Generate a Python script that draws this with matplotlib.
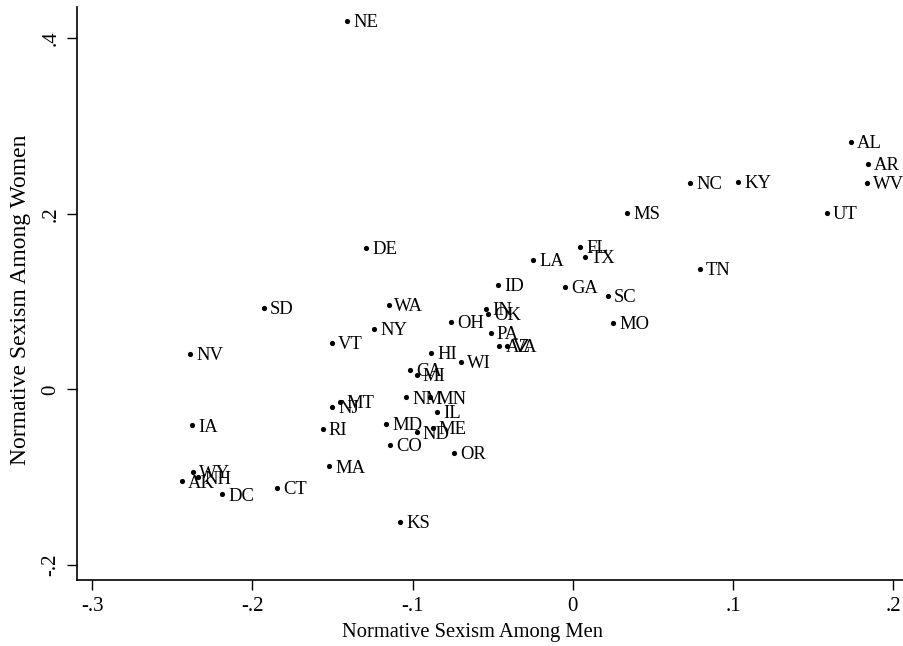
import numpy as np
import matplotlib.pyplot as plt

# --- data ---
states = ["NE", "AL", "AR", "WV", "UT", "KY", "NC", "MS", "TN", "FL",
          "TX", "LA", "GA", "SC", "MO", "ID", "IN", "OK", "OH", "PA",
          "AZ", "VA", "WA", "NY", "VT", "HI", "WI", "CA", "MI", "NM",
          "MN", "MT", "NJ", "IL", "RI", "MD", "ND", "ME", "CO", "OR",
          "MA", "IA", "WY", "NH", "AK", "DC", "CT", "NV", "SD", "DE", "KS"]

men = [-0.1408, 0.1736, 0.1842, 0.1836, 0.1586, 0.1031, 0.0732, 0.0339, 0.0794, 0.0047,
       0.0077, -0.0246, -0.0048, 0.0220, 0.0253, -0.0464, -0.0541, -0.0528, -0.0757, -0.0513,
       -0.0458, -0.0412, -0.1150, -0.1240, -0.1503, -0.0882, -0.0699, -0.1015, -0.0973, -0.1038,
       -0.0890, -0.1452, -0.1500, -0.0847, -0.1560, -0.1165, -0.0973, -0.0873, -0.1140, -0.0740,
       -0.1520, -0.2377, -0.2367, -0.2336, -0.2441, -0.2188, -0.1847, -0.2387, -0.1926, -0.1289, -0.1077]

women = [0.4196, 0.2818, 0.2568, 0.2351, 0.2010, 0.2363, 0.2351, 0.2010, 0.1372, 0.1625,
         0.1512, 0.1474, 0.1164, 0.1065, 0.0754, 0.1190, 0.0913, 0.0856, 0.0763, 0.0640,
         0.0499, 0.0495, 0.0962, 0.0685, 0.0526, 0.0419, 0.0317, 0.0219, 0.0165, -0.0093,
         -0.0093, -0.0142, -0.0196, -0.0253, -0.0450, -0.0393, -0.0492, -0.0442, -0.0632, -0.0727,
         -0.0879, -0.0412, -0.0943, -0.1004, -0.1050, -0.1198, -0.1121, 0.0404, 0.0928, 0.1611, -0.1509]

xticks = [-0.3, -0.2, -0.1, 0, 0.1, 0.2]
xticklabels = ["-.3", "-.2", "-.1", "0", ".1", ".2"]
yticks = [-0.2, 0, 0.2, 0.4]
yticklabels = ["-.2", "0", ".2", ".4"]

plt.rcParams['font.family'] = ['Liberation Serif', 'DejaVu Serif']

W, H = 904, 646
fig = plt.figure(figsize=(W / 100, H / 100), dpi=100)
# plot region: left spine at ~77px, bottom spine at ~580px, top at ~7px, runs off the right edge
ax = fig.add_axes([77 / W, (H - 580) / H, 1 - 77 / W, (580 - 7) / H])

ax.scatter(men, women, s=14, color='black', zorder=3, linewidths=0)
for name, x, y in zip(states, men, women):
    ax.annotate(name, (x, y), xytext=(4.3, -4.4), textcoords='offset points',
                va='baseline', ha='left', fontsize=13.4, color='black')

ax.set_xlim(-0.3094, 0.2067)
ax.set_ylim(-0.2173, 0.4357)
ax.set_xticks(xticks)
ax.set_xticklabels(xticklabels, fontsize=15)
ax.set_yticks(yticks)
ax.set_yticklabels(yticklabels, fontsize=15, rotation=90, va='center')
ax.tick_params(direction='out', length=7, width=1, color='black', pad=5)

ax.spines['top'].set_visible(False)
ax.spines['right'].set_visible(False)
ax.spines['left'].set_linewidth(1.2)
ax.spines['bottom'].set_linewidth(1.2)

ax.set_xlabel("Normative Sexism Among Men", fontsize=14.8, va='center')
ax.set_ylabel("Normative Sexism Among Women", fontsize=17, va='center')
ax.xaxis.set_label_coords(0.478, -(632 - 580) / 573)
ax.yaxis.set_label_coords(-(77 - 21) / 827, 0.4887)

fig.savefig("out.png", dpi=100)
